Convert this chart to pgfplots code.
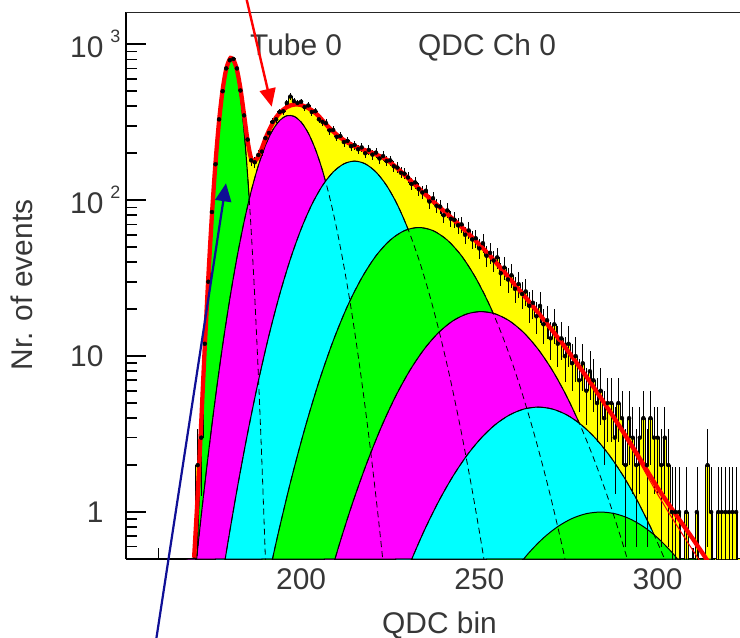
\documentclass[border=0pt]{standalone}
\usepackage{pgfplots}
\pgfplotsset{compat=1.18}
\usepackage{pgfplotstable}
\usepackage{fontspec}
\setmainfont{Liberation Sans}
\usetikzlibrary{arrows.meta}
\definecolor{navyb}{RGB}{15,15,150}
\definecolor{txt}{RGB}{55,55,55}
\definecolor{pyel}{rgb}{1,1,0}
\definecolor{pgrn}{rgb}{0,1,0}
\definecolor{pmag}{rgb}{1,0,1}
\definecolor{pcyn}{rgb}{0,1,1}
\definecolor{pred}{rgb}{1,0,0}
\newcommand\bigf{\fontsize{30}{36}\selectfont}

% histogram: bin centre, counts, error
\pgfplotstableread{
x N E
168 0.01 0
169 0.01 0
170 0.01 0
171 2 1.41
172 3 1.73
173 12 3.46
174 30 5.48
175 84 9.17
176 170 13.0
177 330 18.2
178 500 22.4
179 700 26.5
180 790 28.1
181 805 28.4
182 700 26.5
183 505 22.5
184 350 18.7
185 245 15.7
186 180 13.4
187 175 13.2
188 195 14.0
189 205 14.3
190 250 15.8
191 270 16.4
192 318 17.8
193 330 18.2
194 368 19.2
195 372 19.3
196 420 20.5
197 462 21.5
198 432 20.8
199 420 20.5
200 428 20.7
201 395 19.9
202 405 20.1
203 368 19.2
204 372 19.3
205 330 18.2
206 318 17.8
207 312 17.7
208 280 16.7
209 282 16.8
210 255 16.0
211 258 16.1
212 236 15.4
213 240 15.5
214 222 14.9
215 226 15.0
216 212 14.6
217 218 14.8
218 200 14.1
219 210 14.5
220 196 14.0
221 202 14.2
222 185 13.6
223 192 13.9
224 178 13.3
225 180 13.4
226 165 12.8
227 162 12.7
228 150 12.2
229 148 12.2
230 140 11.8
231 127 11.3
232 130 11.4
233 118 10.9
234 112 10.6
235 115 10.7
236 98 9.9
237 103 10.1
238 92 9.6
239 91 9.5
240 80 8.9
241 86 9.3
242 76 8.7
243 75 8.7
244 69 8.3
245 70 8.4
246 60 7.7
247 64 8.0
248 56 7.5
249 57 7.5
250 49 7.0
251 53 7.3
252 44 6.6
253 46 6.8
254 41 6.4
255 43 6.6
256 34 5.8
257 37 6.1
258 31 5.6
259 33 5.7
260 27 5.2
261 29 5.4
262 25 5.0
263 26 5.1
264 21 4.6
265 22 4.7
266 18 4.2
267 21 4.6
268 16 4.0
269 17 4.1
270 13 3.6
271 16 4.0
272 12 3.5
273 13 3.6
274 10 3.2
275 12 3.5
276 9 3.0
277 10 3.2
278 7 2.6
279 9 3.0
280 6 2.4
281 8 2.8
282 7 2.6
283 5 2.2
284 6 2.4
285 4 2.0
286 5 2.2
287 5 2.2
288 3 1.7
289 5 2.2
290 4 2.0
291 2 1.4
292 4 2.0
293 3 1.7
294 2 1.4
295 3 1.7
296 4 2.0
297 2 1.4
298 4 2.0
299 3 1.7
300 3 1.7
301 2 1.4
302 3 1.7
303 2 1.4
304 1 0.95
305 1 0.95
306 1 0.95
307 0.01 0
308 1 0.95
309 0.01 0
310 0.01 0
311 1 0.95
312 0.01 0
313 0.01 0
314 2 1.4
315 1 0.95
316 0.01 0
317 1 0.95
318 1 0.95
319 1 0.95
320 1 0.95
321 1 0.95
322 1 0.95
323 0.01 0
324 0.01 0
}\hist

% fitted components
\pgfplotstableread{
x y
170 0.138
171 0.672
172 2.79
173 9.89
174 29.8
175 76.7
176 167.9
177 313.3
178 498.3
179 675.4
180 780
180.4 790
181 767.6
182 643.7
183 460
184 280.1
185 145.4
186 64.3
187 24.2
188 7.77
189 2.13
190 0.496
191 0.099
}\cA
\pgfplotstableread{
x y
168 0.120
170 0.351
172 0.946
174 2.36
176 5.46
178 11.71
180 23.2
182 42.6
184 72.4
186 114.0
188 166.2
190 224.4
192 280.4
194 324.6
196 347.9
198 345.2
200 317.2
202 269.9
204 212.6
206 155.1
208 104.8
210 65.5
212 37.9
214 20.4
216 10.11
218 4.65
220 1.98
222 0.780
224 0.285
226 0.096
}\cB
\pgfplotstableread{
x y
176 0.200
179 0.547
182 1.377
185 3.20
188 6.87
191 13.60
194 24.85
197 41.9
200 65.2
203 93.6
206 124.0
209 151.6
212 171.0
215 178
218 171.0
221 151.6
224 124.0
227 93.6
230 65.2
233 41.9
236 24.85
239 13.60
242 6.87
245 3.20
248 1.377
251 0.547
254 0.200
}\cC
\pgfplotstableread{
x y
189 0.240
193 0.638
197 1.544
201 3.40
205 6.84
209 12.52
213 20.9
217 31.7
221 43.96
225 55.5
229 63.8
233 66.8
237 63.8
241 55.5
245 43.96
249 31.7
253 20.9
257 12.52
261 6.84
265 3.40
269 1.544
273 0.638
277 0.240
}\cD
\pgfplotstableread{
x y
206.5 0.287
210.5 0.596
214.5 1.153
218.5 2.08
222.5 3.51
226.5 5.52
230.5 8.09
234.5 11.06
238.5 14.11
242.5 16.79
246.5 18.64
250.5 19.3
254.5 18.64
258.5 16.79
262.5 14.11
266.5 11.06
270.5 8.09
274.5 5.52
278.5 3.51
282.5 2.08
286.5 1.153
290.5 0.596
294.5 0.287
}\cE
\pgfplotstableread{
x y
226.5 0.2705
230.5 0.4655
234.5 0.757
238.5 1.161
242.5 1.684
246.5 2.306
250.5 2.982
254.5 3.642
258.5 4.20
262.5 4.577
266.5 4.71
270.5 4.577
274.5 4.20
278.5 3.642
282.5 2.982
286.5 2.306
290.5 1.684
294.5 1.161
298.5 0.757
302.5 0.4655
306.5 0.2705
}\cF
\pgfplotstableread{
x y
252 0.25
256 0.3114
260 0.4244
264 0.5514
268 0.6832
272 0.8071
276 0.9092
280 0.9765
284 1.0
288 0.9765
292 0.9092
296 0.8071
300 0.6832
304 0.5514
308 0.4244
312 0.3114
316 0.25
}\cG

% total fit
\pgfplotstableread{
x y
170 0.51
171 1.28
172 3.78
173 11.5
174 32.3
175 80.5
176 173.6
177 321.7
178 510
179 693
180 804
180.4 816
181 800
182 688
183 518
184 355
185 240
186 185
187 178
188 190
189 215
190 248
191 280
192 310
193 340
194 362
195 380
196 395
197 405
198 410
199 411
200 408
201 400
202 390
203 377
204 362
205 345
206 325
207 306
208 290
209 276
210 263
211 252
212 243
213 235
214 228
215 222
216 217
218 209
220 201
222 192
224 182
226 167.5
228 152.6
231 131.8
234 113.5
237 98.3
240 85.4
243 74.2
246 64.1
249 54.8
252 46.5
255 39.0
258 32.5
261 26.9
264 22.3
267 18.36
270 15.05
273 12.27
276 9.93
279 7.97
282 6.35
285 5.01
288 3.95
291 3.09
294 2.40
297 1.85
300 1.43
303 1.13
306 0.90
309 0.72
312 0.57
315 0.45
318 0.36
}\fit
\pgfplotstableread{
x y
273 12.27
276 9.93
279 7.97
282 6.30
285 4.95
288 3.85
291 2.95
294 2.28
297 1.72
300 1.30
303 1.00
306 0.78
309 0.61
312 0.48
315 0.37
}\fitb

\begin{document}
\begin{tikzpicture}
\path[use as bounding box] (0bp,0bp) rectangle (740bp,638bp);
\begin{axis}[
  at={(126bp,79bp)}, anchor=south west,
  scale only axis, width=614bp, height=547bp,
  xmin=150.9, xmax=323.1,
  ymode=log, ymin=0.5, ymax=1610,
  log origin y=infty,
  axis lines*=left,
  axis line style={line width=1.6bp, black},
  tick align=inside,
  major tick length=20bp, minor tick length=11bp,
  every tick/.style={line width=1.6bp, black},
  xtick={200,250,300}, xticklabels={200,250,300},
  minor xtick={160,170,180,190,210,220,230,240,260,270,280,290,310,320},
  ytick={1,10,100,1000},
  yticklabels={1,10,{10\rlap{\hspace{7bp}\raisebox{15bp}{\fontsize{18}{18}\selectfont 2}}},{10\rlap{\hspace{7bp}\raisebox{15bp}{\fontsize{18}{18}\selectfont 3}}}},
  minor ytick={0.6,0.7,0.8,0.9,2,3,4,5,6,7,8,9,20,30,40,50,60,70,80,90,200,300,400,500,600,700,800,900},
  tick label style={font=\bigf, text=txt},
  yticklabel style={xshift=-19bp},
  xticklabel style={yshift=-6bp},
]
% histogram fill
\addplot[fill=pyel, draw=none, const plot mark mid, forget plot] table[x=x,y=N] {\hist} \closedcycle;
% components
\addplot[fill=pgrn, draw=black, line width=1bp, smooth] table {\cA} \closedcycle;
\addplot[fill=pmag, draw=black, line width=1bp, smooth] table {\cB} \closedcycle;
\addplot[fill=pcyn, draw=black, line width=1bp, smooth] table {\cC} \closedcycle;
\addplot[fill=pgrn, draw=black, line width=1bp, smooth] table {\cD} \closedcycle;
\addplot[fill=pmag, draw=black, line width=1bp, smooth] table {\cE} \closedcycle;
\addplot[fill=pcyn, draw=black, line width=1bp, smooth] table {\cF} \closedcycle;
\addplot[fill=pgrn, draw=black, line width=1bp, smooth] table {\cG} \closedcycle;
% hidden tails dashed
\addplot[black, line width=0.8bp, dash pattern=on 6bp off 4bp, smooth] table {\cA};
\addplot[black, line width=0.8bp, dash pattern=on 6bp off 4bp, smooth] table {\cB};
\addplot[black, line width=0.8bp, dash pattern=on 6bp off 4bp, smooth] table {\cC};
\addplot[black, line width=0.8bp, dash pattern=on 6bp off 4bp, smooth] table {\cD};
\addplot[black, line width=0.8bp, dash pattern=on 6bp off 4bp, smooth] table {\cE};
\addplot[black, line width=0.8bp, dash pattern=on 6bp off 4bp, smooth] table {\cF};
% histogram outline and error bars
\addplot[black, line width=0.9bp, const plot mark mid] table[x=x,y=N] {\hist};
\addplot[only marks, mark=none,
  error bars/.cd, x dir=both, x fixed=0.5, y dir=both, y explicit,
  error mark=none, error bar style={draw=black, solid, line width=0.7bp}]
  table[x=x, y=N, y error=E] {\hist};
% fit
\addplot[pred, line width=1bp] table {\fitb};
\addplot[pred, line width=4.3bp, smooth] table {\fit};
\end{axis}
\draw[line width=0.9bp, black!85] (126bp,626bp) -- (740bp,626bp);
\node[anchor=base west, font=\bigf, text=txt, inner sep=0pt] at (250bp,582bp) {Tube 0};
\node[anchor=base west, font=\bigf, text=txt, inner sep=0pt] at (418bp,582bp) {QDC Ch 0};
\node[anchor=base west, font=\bigf, text=txt, inner sep=0pt] at (382bp,5bp) {QDC bin};
\node[anchor=base, rotate=90, font=\bigf, text=txt, inner sep=0pt] at (32bp,353bp) {Nr. of events};
\draw[pred, line width=2.4bp, -{Triangle[length=18bp,width=16bp]}] (244.4bp,648bp) -- (271.7bp,531.3bp);
\draw[navyb, line width=2.2bp, -{Triangle[length=18bp,width=16bp]}] (154.6bp,-12bp) -- (226bp,454.7bp);
\end{tikzpicture}
\end{document}
